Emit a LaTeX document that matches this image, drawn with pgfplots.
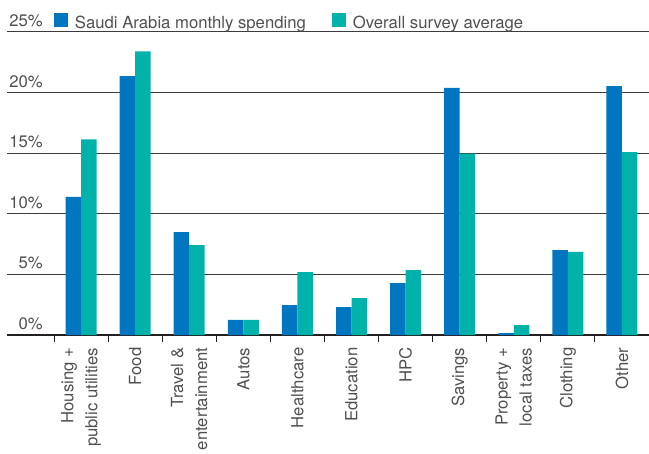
\documentclass[border=0pt]{standalone}
\usepackage{fontspec}
\setmainfont{TeX Gyre Heros}
\usepackage{pgfplots}
\pgfplotsset{compat=1.18}
\definecolor{sablue}{RGB}{0,118,192}
\definecolor{tealc}{RGB}{0,178,169}
\definecolor{txt}{RGB}{80,80,80}
\definecolor{gridc}{RGB}{60,60,60}
\definecolor{axisc}{RGB}{35,31,32}
\newcommand{\chartfont}{\fontsize{16.7bp}{24bp}\selectfont}
\begin{document}
\begin{tikzpicture}
\useasboundingbox (-7bp,-119bp) rectangle (642bp,335bp);
\begin{axis}[
  at={(0,0)}, anchor=south west,
  scale only axis, width=642bp, height=303bp,
  xmin=-1.369, xmax=10.5, ymin=0, ymax=25,
  ybar=0pt, bar width=15.5bp,
  separate axis lines,
  axis x line*=bottom, axis y line*=left,
  x axis line style={line width=2.6bp, color=axisc},
  y axis line style={draw=none},
  ymajorgrids, grid style={line width=1bp, color=gridc},
  major tick length=0pt,
  ytick={0,5,10,15,20,25},
  /pgf/number format/assume math mode=true,
  yticklabel={\pgfmathprintnumber{\tick}\%},
  yticklabel style={anchor=base east, inner sep=0pt, xshift=36bp, yshift=5.5bp, text=txt, font=\chartfont},
  xtick={0,1,2,3,4,5,6,7,8,9,10},
  xticklabels={{Housing +\\public utilities},Food,{Travel \&\\entertainment},Autos,Healthcare,Education,HPC,Savings,{Property +\\local taxes},Clothing,Other},
  xticklabel style={rotate=90, anchor=east, align=right, inner sep=0pt, text=txt, font=\chartfont},
  xticklabel shift=12.5bp,
  extra x ticks={-0.5,0.5,1.5,2.5,3.5,4.5,5.5,6.5,7.5,8.5,9.5},
  extra x tick labels={},
  extra x tick style={major tick length=7bp, tick align=outside, tick style={line width=1bp, color=axisc}},
  legend columns=2,
  legend image code/.code={\fill[#1] (0bp,-4.6bp) rectangle (14bp,9.4bp);},
  legend style={draw=none, fill=none, inner sep=0pt, outer sep=0pt,
    at={(0.0732,1)}, anchor=south west, yshift=2.5bp,
    column sep=7bp,
    /tikz/every even column/.append style={column sep=26bp},
    nodes={inner sep=0pt, text=txt, font=\chartfont}},
]
\addplot[fill=sablue, draw=none] coordinates {
(0,11.4) (1,21.35) (2,8.49) (3,1.24) (4,2.47) (5,2.31) (6,4.29) (7,20.4) (8,0.16) (9,7.0) (10,20.53)};
\addplot[fill=tealc, draw=none] coordinates {
(0,16.15) (1,23.41) (2,7.42) (3,1.25) (4,5.19) (5,3.05) (6,5.36) (7,14.97) (8,0.82) (9,6.85) (10,15.09)};
\legend{Saudi Arabia monthly spending, Overall survey average}
\end{axis}
\end{tikzpicture}
\end{document}
